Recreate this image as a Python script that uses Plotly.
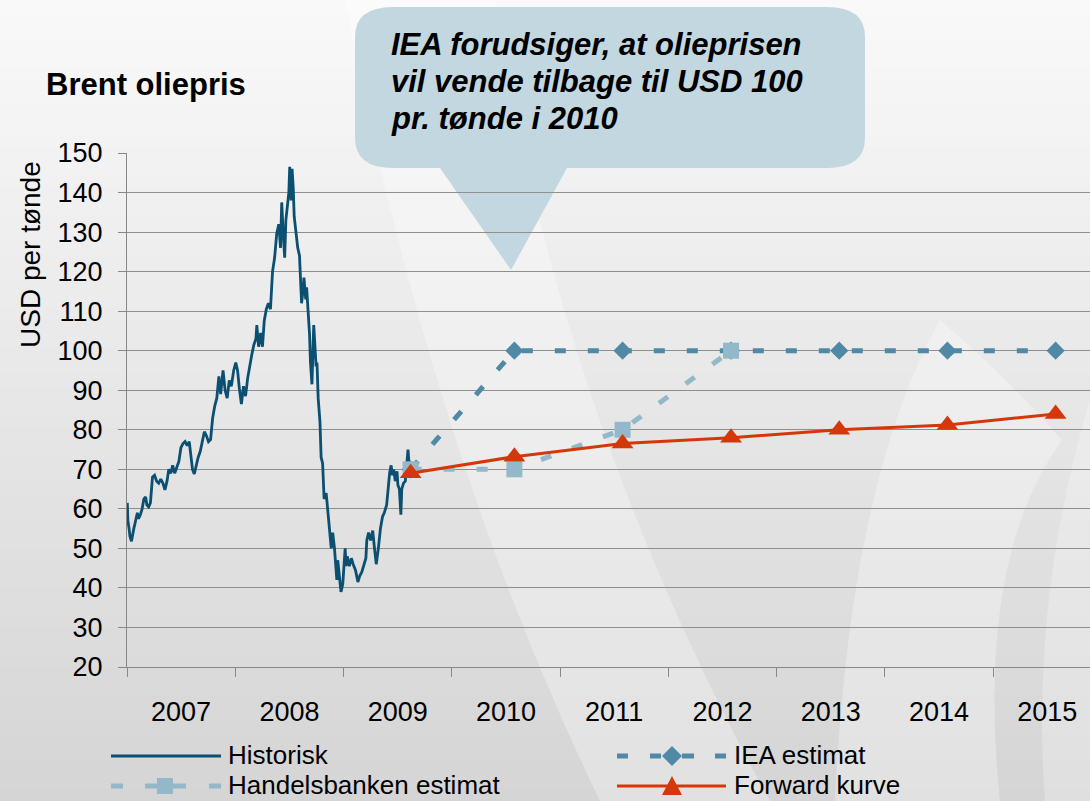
import plotly.graph_objects as go

# ---------------- data ----------------
hist_dates = [
    "2007-01-02", "2007-01-04", "2007-01-08", "2007-01-11", "2007-01-16", "2007-01-19", "2007-01-24", "2007-01-30",
    "2007-02-05", "2007-02-09", "2007-02-15", "2007-02-21", "2007-02-27", "2007-03-05", "2007-03-09", "2007-03-15",
    "2007-03-21", "2007-03-28", "2007-04-04", "2007-04-11", "2007-04-18", "2007-04-25", "2007-05-02", "2007-05-09",
    "2007-05-16", "2007-05-22", "2007-05-29", "2007-06-04", "2007-06-11", "2007-06-18", "2007-06-25", "2007-07-02",
    "2007-07-09", "2007-07-16", "2007-07-23", "2007-07-30", "2007-08-06", "2007-08-10", "2007-08-16", "2007-08-22",
    "2007-08-29", "2007-09-05", "2007-09-12", "2007-09-19", "2007-09-26", "2007-10-03", "2007-10-10", "2007-10-17",
    "2007-10-24", "2007-10-31", "2007-11-07", "2007-11-13", "2007-11-21", "2007-11-28", "2007-12-05", "2007-12-12",
    "2007-12-19", "2007-12-27", "2008-01-03", "2008-01-09", "2008-01-15", "2008-01-22", "2008-01-29", "2008-02-05",
    "2008-02-12", "2008-02-19", "2008-02-26", "2008-03-04", "2008-03-11", "2008-03-14", "2008-03-20", "2008-03-27",
    "2008-04-02", "2008-04-08", "2008-04-15", "2008-04-22", "2008-04-29", "2008-05-06", "2008-05-13", "2008-05-20",
    "2008-05-27", "2008-06-02", "2008-06-06", "2008-06-10", "2008-06-16", "2008-06-20", "2008-06-25", "2008-06-30",
    "2008-07-03", "2008-07-08", "2008-07-11", "2008-07-15", "2008-07-18", "2008-07-24", "2008-07-30", "2008-08-05",
    "2008-08-08", "2008-08-12", "2008-08-15", "2008-08-20", "2008-08-26", "2008-08-29", "2008-09-03", "2008-09-08",
    "2008-09-11", "2008-09-16", "2008-09-22", "2008-09-26", "2008-09-30", "2008-10-03", "2008-10-07", "2008-10-13",
    "2008-10-17", "2008-10-22", "2008-10-27", "2008-11-03", "2008-11-10", "2008-11-14", "2008-11-20", "2008-11-25",
    "2008-12-01", "2008-12-05", "2008-12-09", "2008-12-12", "2008-12-17", "2008-12-23", "2008-12-29", "2009-01-02",
    "2009-01-06", "2009-01-09", "2009-01-13", "2009-01-20", "2009-01-27", "2009-02-02", "2009-02-10", "2009-02-18",
    "2009-02-24", "2009-03-03", "2009-03-10", "2009-03-17", "2009-03-20", "2009-03-26", "2009-04-02", "2009-04-09",
    "2009-04-15", "2009-04-21", "2009-04-28", "2009-05-05", "2009-05-12", "2009-05-18", "2009-05-26", "2009-06-01",
    "2009-06-05", "2009-06-10", "2009-06-15", "2009-06-19", "2009-06-24", "2009-06-30", "2009-07-03", "2009-07-08",
    "2009-07-13", "2009-07-16", "2009-07-22", "2009-07-28", "2009-08-03", "2009-08-06", "2009-08-10", "2009-08-14",
]
hist_values = [
    61.5, 57, 55, 53, 51.8, 53.5, 55, 57,
    59, 57.5, 58.5, 60, 62.5, 63, 61, 60.5,
    61.5, 68, 68.5, 67, 66.5, 67.5, 66.5, 64.8,
    67, 70, 69, 71, 69, 70.5, 72, 75.5,
    76.5, 77, 76, 77, 72.5, 70, 68.8, 71,
    73, 74.5, 77.5, 79.5, 78.5, 77, 77.5, 83,
    86, 88, 93.5, 89, 95, 90, 88, 92.5,
    91, 95, 97, 95, 90.5, 86.5, 91, 88.5,
    93, 96.5, 99, 101.5, 103, 106.5, 101, 104.5,
    101, 107.5, 110.5, 112, 110.5, 120, 123.5, 129.5,
    132, 126, 137.5, 131, 123.5, 133, 136, 140,
    146.5, 138, 146, 141, 134, 129, 126, 124,
    117, 112, 114, 118.5, 113, 116, 110, 104,
    97, 91.5, 106.5, 99, 96, 97, 88, 82,
    73, 71.5, 62.5, 64, 57, 55, 50, 54,
    50, 45, 42, 47, 43, 39, 41, 46,
    50, 45.5, 48, 45.5, 47.5, 46, 44.5, 41.5,
    43, 44, 46, 47.5, 52, 54, 52, 54.5,
    50, 46, 50, 55, 58, 59, 61, 66,
    69, 71, 68.5, 70, 67, 69.5, 66, 65,
    58.5, 65, 66.5, 67, 72, 75, 71, 70,
]

forecast_dates = ["2009-08-15", "2010-07-31", "2011-07-31", "2012-07-31",
                  "2013-07-31", "2014-07-31", "2015-07-31"]
iea_values = [70, 100, 100, 100, 100, 100, 100]
hb_dates = forecast_dates[:4]
hb_values = [70, 70, 80, 100]
fwd_values = [69, 73.2, 76.5, 78, 80, 81.2, 84]

series_names = ["Historisk", "IEA estimat", "Handelsbanken estimat", "Forward kurve"]
title_text = "Brent oliepris"
y_title = "USD per tønde"
bubble_lines = ["IEA forudsiger, at olieprisen", "vil vende tilbage til USD 100", "pr. tønde i 2010"]

# ---------------- styling ----------------
C_HIST = "#0b4f71"
C_IEA = "#5089a6"
C_HB = "#93b8c9"
C_FWD = "#d4380a"
FONT = "Arial, Liberation Sans, sans-serif"

W, H = 1090, 801
ML, MR, MT, MB = 127, 0, 153, 134
PW = W - ML - MR
PH = H - MT - MB


def px(x):
    return (x - ML) / PW


def py(y):
    return (H - MB - y) / PH


def path(cmds):
    out = []
    for c in cmds:
        if isinstance(c, str):
            out.append(c)
        else:
            out.append(f"{px(c[0]):.5f},{py(c[1]):.5f}")
    return " ".join(out)


fig = go.Figure()
fig.add_trace(go.Scatter(x=hist_dates, y=hist_values, mode="lines", name=series_names[0],
                         line=dict(color=C_HIST, width=2.8), showlegend=False))
fig.add_trace(go.Scatter(x=forecast_dates, y=iea_values, mode="lines+markers", name=series_names[1],
                         line=dict(color=C_IEA, width=5, dash="11px,22px"),
                         marker=dict(symbol="diamond", size=14, color=C_IEA), showlegend=False))
fig.add_trace(go.Scatter(x=hb_dates, y=hb_values, mode="lines+markers", name=series_names[2],
                         line=dict(color=C_HB, width=5, dash="11px,22px"),
                         marker=dict(symbol="square", size=16, color=C_HB), showlegend=False))
fig.add_trace(go.Scatter(x=forecast_dates, y=fwd_values, mode="lines+markers", name=series_names[3],
                         line=dict(color=C_FWD, width=3),
                         marker=dict(symbol="triangle-up", size=19, color=C_FWD), showlegend=False))

shapes = []
# background vertical gradient
n = 60
for i in range(n):
    f = i / (n - 1)
    c = int(round(249 - f * 36))
    y0 = i * H / n
    y1 = (i + 1) * H / n + 1
    shapes.append(dict(type="rect", xref="paper", yref="paper", layer="below",
                       x0=px(0), x1=px(W), y0=py(y1), y1=py(y0),
                       fillcolor=f"rgb({c},{c},{c})", line=dict(width=0)))
# soft swooshes
sw = "rgba(255,255,255,0.3)"
shapes.append(dict(type="path", xref="paper", yref="paper", layer="below", fillcolor=sw, line=dict(width=0),
                   path=path(["M", (345, 0), "Q", (430, 450), (600, 801), "L", (770, 801),
                              "Q", (560, 420), (495, 0), "Z"])))
shapes.append(dict(type="path", xref="paper", yref="paper", layer="below", fillcolor=sw, line=dict(width=0),
                   path=path(["M", (835, 801), "Q", (850, 480), (940, 320), "Q", (1010, 380), (1062, 440),
                              "Q", (975, 560), (1000, 801), "Z"])))
shapes.append(dict(type="path", xref="paper", yref="paper", layer="below", fillcolor="rgba(255,255,255,0.25)",
                   line=dict(width=0),
                   path=path(["M", (1090, 400), "Q", (1030, 600), (1045, 801), "L", (1090, 801), "Z"])))
# callout bubble
bx0, bx1, by0, by1, rx, ry = 355, 865, 7, 168, 38, 30
shapes.append(dict(type="path", xref="paper", yref="paper", layer="below", fillcolor="#c3d7e0",
                   line=dict(width=0),
                   path=path(["M", (bx0 + rx, by0), "L", (bx1 - rx, by0), "Q", (bx1, by0), (bx1, by0 + ry),
                              "L", (bx1, by1 - ry), "Q", (bx1, by1), (bx1 - rx, by1),
                              "L", (567, by1), "L", (511, 270), "L", (440, by1),
                              "L", (bx0 + rx, by1), "Q", (bx0, by1), (bx0, by1 - ry),
                              "L", (bx0, by0 + ry), "Q", (bx0, by0), (bx0 + rx, by0), "Z"])))


# ---------------- manual legend ----------------
def seg(x0, x1, y, color, width):
    return dict(type="line", xref="paper", yref="paper", layer="above",
                x0=px(x0), x1=px(x1), y0=py(y), y1=py(y), line=dict(color=color, width=width))


R1, R2 = 756, 786
shapes.append(seg(111, 221, R1, C_HIST, 2.8))
for a, b in [(111, 123), (145, 157), (173, 186), (209, 221)]:
    shapes.append(seg(a, b, R2, C_HB, 5))
shapes.append(dict(type="rect", xref="paper", yref="paper", layer="above",
                   x0=px(157), x1=px(173), y0=py(R2 + 8), y1=py(R2 - 8), fillcolor=C_HB, line=dict(width=0)))
for a, b in [(617, 628), (650, 661), (682, 694), (715, 726)]:
    shapes.append(seg(a, b, R1, C_IEA, 5))
shapes.append(dict(type="path", xref="paper", yref="paper", layer="above", fillcolor=C_IEA, line=dict(width=0),
                   path=path(["M", (672, R1 - 10), "L", (682, R1), "L", (672, R1 + 10), "L", (662, R1), "Z"])))
shapes.append(seg(617, 726, R2, C_FWD, 3))
shapes.append(dict(type="path", xref="paper", yref="paper", layer="above", fillcolor=C_FWD, line=dict(width=0),
                   path=path(["M", (672, R2 - 10), "L", (682, R2 + 9), "L", (662, R2 + 9), "Z"])))

annotations = []


def text(x, y, s, size, xanchor="left", bold=False, italic=False, angle=0):
    style = "italic" if italic else "normal"
    weight = "bold" if bold else "normal"
    annotations.append(dict(xref="paper", yref="paper", x=px(x), y=py(y), text=s, showarrow=False,
                            xanchor=xanchor, yanchor="middle", textangle=angle, borderpad=0,
                            font=dict(family=FONT, size=size, color="black", style=style, weight=weight)))


text(227, R1 - 1, series_names[0], 26)
text(227, R2 - 1, series_names[2], 26)
text(733, R1 - 1, series_names[1], 26)
text(733, R2 - 1, series_names[3], 26)
text(45, 84, title_text, 31, bold=True)
text(30, 255, y_title, 28, xanchor="center", angle=-90)
for i, line in enumerate(bubble_lines):
    text(390, 44 + i * 37.3, line, 31, bold=True, italic=True)

fig.update_layout(
    width=W, height=H,
    margin=dict(l=ML, r=MR, t=MT, b=MB, autoexpand=False),
    paper_bgcolor="#e6e6e6",
    plot_bgcolor="rgba(0,0,0,0)",
    shapes=shapes,
    annotations=annotations,
    showlegend=False,
    font=dict(family=FONT, color="black"),
)
fig.update_xaxes(
    type="date", range=["2007-01-01", "2015-11-24"],
    tick0="2007-01-01", dtick="M12", ticklabelmode="period", tickformat="%Y",
    ticks="outside", ticklen=9, tickcolor="#888888", tickwidth=1,
    showline=True, linecolor="#888888", linewidth=1, showgrid=False, zeroline=False,
    tickfont=dict(size=27, color="black", family=FONT), ticklabelstandoff=12,
)
fig.update_yaxes(
    range=[20, 150], dtick=10, tick0=20,
    ticks="outside", ticklen=8, tickcolor="#888888",
    showline=True, linecolor="#888888", linewidth=1,
    showgrid=True, gridcolor="#8f8f8f", gridwidth=1, zeroline=False,
    tickfont=dict(size=27, color="black", family=FONT), ticklabelstandoff=10,
)

fig.write_html("out.html",
               config={"displayModeBar": False},
               post_script="document.body.style.margin='0';document.body.style.overflow='hidden';")
